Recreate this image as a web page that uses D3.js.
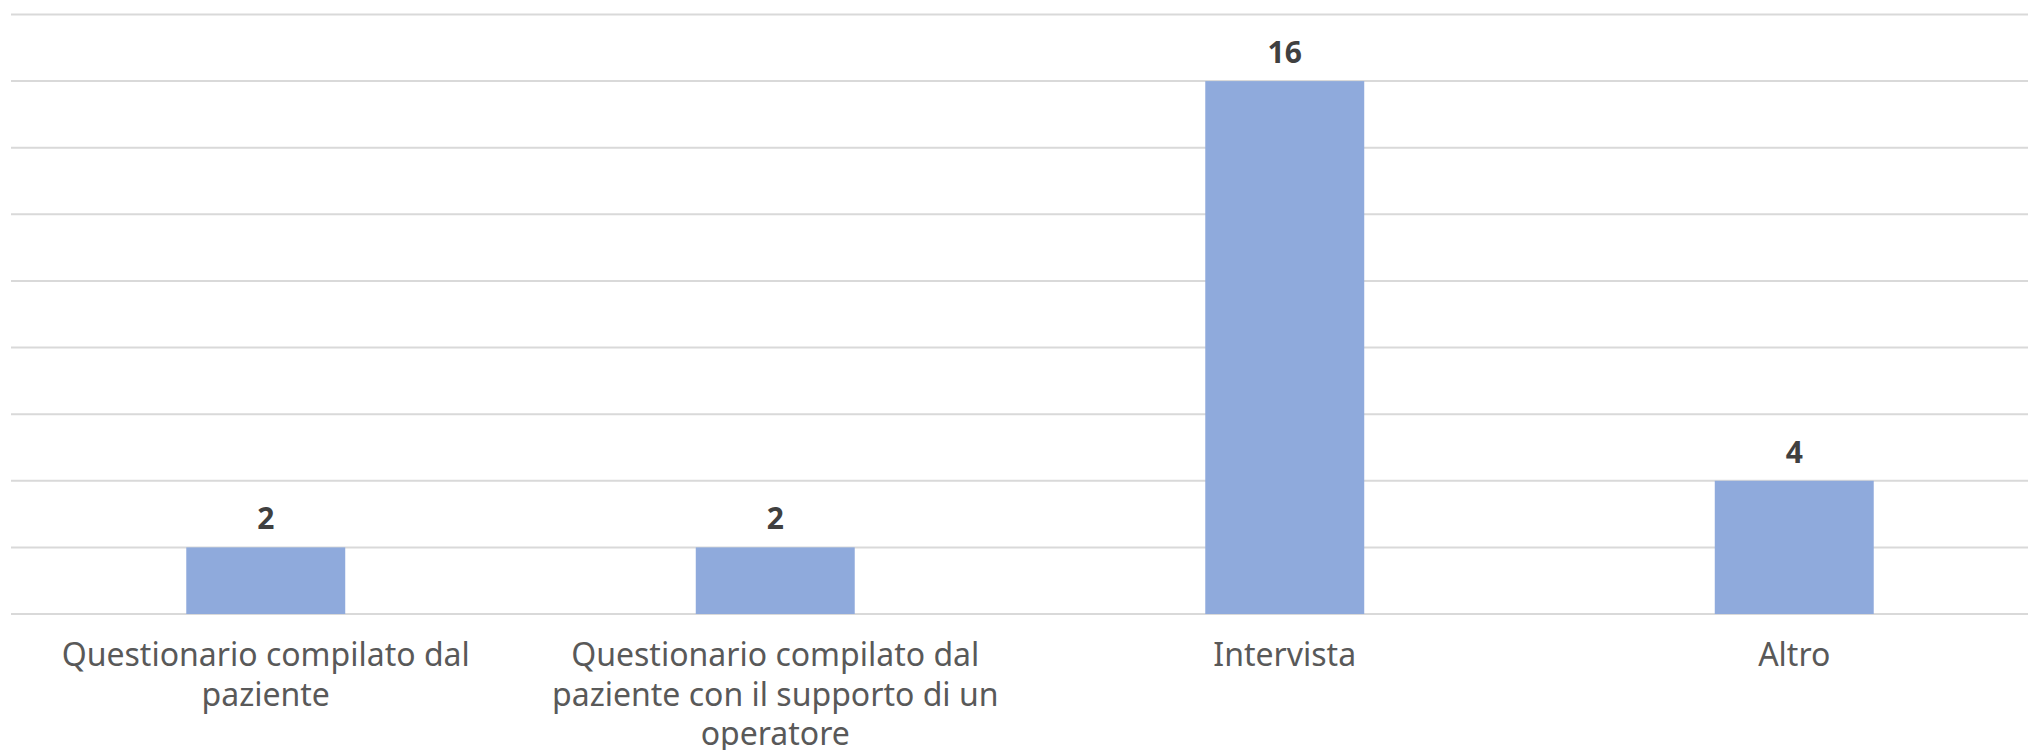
<!DOCTYPE html>
<html><head><meta charset="utf-8">
<script src="https://cdn.jsdelivr.net/npm/d3@7/dist/d3.min.js"></script>
<style>html,body{margin:0;padding:0;background:#fff;overflow:hidden}</style>
</head><body>
<script>
const categories = ["Questionario compilato dal paziente", "Questionario compilato dal paziente con il supporto di un operatore", "Intervista", "Altro"];
const categoryLines = [["Questionario compilato dal", "paziente"], ["Questionario compilato dal", "paziente con il supporto di un", "operatore"], ["Intervista"], ["Altro"]];
const values = [2, 2, 16, 4];
const yTicks = [0, 2, 4, 6, 8, 10, 12, 14, 16, 18];

const W = 2028, H = 750;
const svg = d3.select("body").append("svg").attr("width", W).attr("height", H);
const x = d3.scaleBand().domain(categories).range([11, 2049]).padding(0);
const y = d3.scaleLinear().domain([0, 18]).range([614, 14.5]);
const barW = x.bandwidth() * 0.312;

svg.append("g").selectAll("line").data(yTicks).join("line")
  .attr("x1", 11).attr("x2", 2049)
  .attr("y1", d => y(d)).attr("y2", d => y(d))
  .attr("stroke", "#D9D9D9").attr("stroke-width", 2);

svg.append("g").selectAll("rect").data(values).join("rect")
  .attr("x", (d, i) => x(categories[i]) + x.bandwidth() / 2 - barW / 2)
  .attr("width", barW)
  .attr("y", d => y(d))
  .attr("height", d => y(0) - y(d))
  .attr("fill", "#8FAADC");

svg.append("g").selectAll("text").data(values).join("text")
  .attr("x", (d, i) => x(categories[i]) + x.bandwidth() / 2)
  .attr("y", d => y(d) - 18)
  .attr("text-anchor", "middle")
  .attr("font-family", "Noto Sans, sans-serif")
  .attr("font-weight", "bold")
  .attr("font-size", 30)
  .attr("fill", "#404040")
  .text(d => d);

const lab = svg.append("g").selectAll("text").data(categories).join("text")
  .attr("text-anchor", "middle")
  .attr("font-family", "Noto Sans, sans-serif")
  .attr("font-size", 32)
  .attr("fill", "#595959")
  .attr("x", d => x(d) + x.bandwidth() / 2)
  .attr("y", 666);
lab.each(function(d, i) {
  d3.select(this).selectAll("tspan").data(categoryLines[i]).join("tspan")
    .attr("x", x(d) + x.bandwidth() / 2)
    .attr("dy", (t, j) => j === 0 ? 0 : 39.5)
    .text(t => t);
});
</script>
</body></html>
